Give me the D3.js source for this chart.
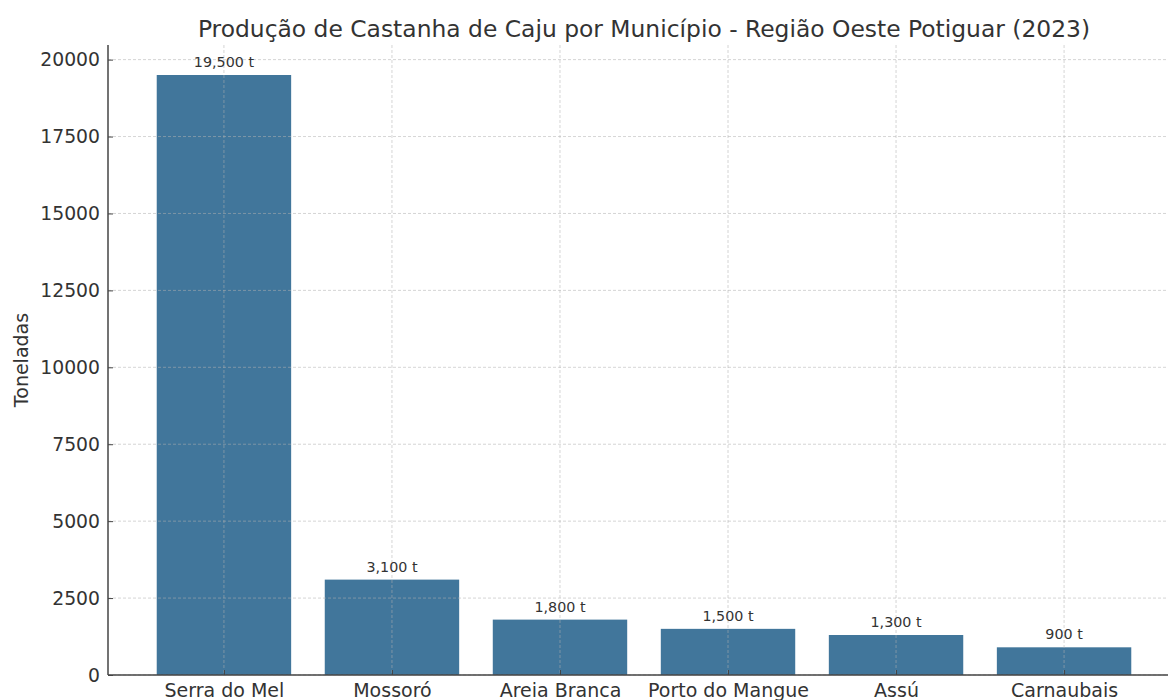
<!DOCTYPE html>
<html><head><meta charset="utf-8">
<script src="https://cdn.jsdelivr.net/npm/d3@7"></script>
<style>body{margin:0;background:#fff}svg{display:block}text{font-family:"DejaVu Sans",sans-serif}</style>
</head><body>
<svg id="c" width="1168" height="700"></svg>
<script>
const categories = ["Serra do Mel","Mossoró","Areia Branca","Porto do Mangue","Assú","Carnaubais"];
const values = [19500, 3100, 1800, 1500, 1300, 900];
const yTicks = [0, 2500, 5000, 7500, 10000, 12500, 15000, 17500, 20000];
const title = "Produção de Castanha de Caju por Município - Região Oeste Potiguar (2023)";
const yLabel = "Toneladas";

(function () {
const svg = d3.select("#c");
const mL = 108, mR = 1180, mT = 45, mB = 675;
const n = categories.length;
const x = d3.scaleLinear().domain([-0.69, n - 1 + 0.69]).range([mL, mR]);
const y = d3.scaleLinear().domain([0, d3.max(values) * 1.05]).range([mB, mT]);
const bw = x(0.8) - x(0);
const textCol = "#333";

// bars
svg.append("g").selectAll("rect").data(values).join("rect")
  .attr("x", (d, i) => x(i) - bw / 2).attr("width", bw)
  .attr("y", d => y(d)).attr("height", d => y(0) - y(d))
  .attr("fill", "#41769b");

// grid
const g = svg.append("g").attr("stroke", "#b0b0b0").attr("stroke-opacity", 0.6)
  .attr("stroke-dasharray", "3,2").attr("stroke-width", 0.9);
g.selectAll(".h").data(yTicks).join("line")
  .attr("x1", mL).attr("x2", mR).attr("y1", d => y(d)).attr("y2", d => y(d));
g.selectAll(".v").data(categories).join("line")
  .attr("y1", mT).attr("y2", mB).attr("x1", (d, i) => x(i)).attr("x2", (d, i) => x(i));

// y axis
const ya = svg.append("g").attr("transform", `translate(${mL},0)`)
  .call(d3.axisLeft(y).tickValues(yTicks).tickSize(-5).tickPadding(8).tickFormat(d3.format("d")));
ya.select(".domain").remove();
ya.selectAll("line").attr("stroke", "#444");
ya.selectAll("text").attr("font-size", 18.8).attr("fill", textCol).attr("font-family", "DejaVu Sans");

// x axis
const xa = svg.append("g").attr("transform", `translate(0,${mB})`)
  .call(d3.axisBottom(x).tickValues(d3.range(n)).tickSize(-5).tickPadding(9).tickFormat(i => categories[i]));
xa.select(".domain").remove();
xa.selectAll("line").attr("stroke", "#444");
xa.selectAll("text").attr("font-size", 19).attr("fill", textCol).attr("font-family", "DejaVu Sans");

// spines
svg.append("line").attr("x1", mL).attr("x2", mL).attr("y1", mT).attr("y2", mB).attr("stroke", "#444").attr("stroke-width", 1.5);
svg.append("line").attr("x1", mL).attr("x2", mR).attr("y1", mB).attr("y2", mB).attr("stroke", "#444").attr("stroke-width", 1.5);

// value labels
svg.append("g").selectAll("text").data(values).join("text")
  .attr("x", (d, i) => x(i)).attr("y", d => y(d) - 8)
  .attr("text-anchor", "middle").attr("font-size", 14.3).attr("fill", textCol)
  .text(d => d3.format(",")(d) + " t");

// title
svg.append("text").attr("x", (mL + mR) / 2).attr("y", 37).attr("text-anchor", "middle")
  .attr("font-size", 23.4).attr("fill", textCol).text(title);

// y label
svg.append("text").attr("transform", `translate(28,${(mT + mB) / 2}) rotate(-90)`)
  .attr("text-anchor", "middle").attr("font-size", 19).attr("fill", textCol).text(yLabel);
})();
</script>
</body></html>
